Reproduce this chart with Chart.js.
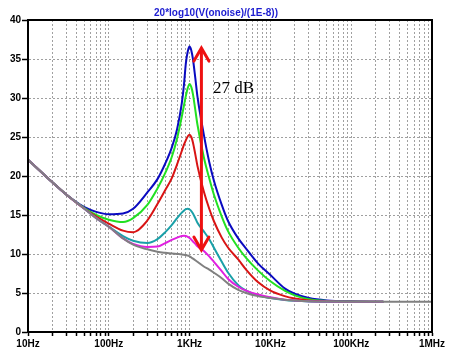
<!DOCTYPE html>
<html>
<head>
<meta charset="utf-8">
<script src="https://cdn.jsdelivr.net/npm/chart.js@4.4.1/dist/chart.umd.min.js"></script>
<style>
  html, body { margin: 0; padding: 0; background: #fff; }
  canvas { display: block; }
</style>
</head>
<body>
<canvas id="myChart" width="450" height="352"></canvas>
<script>
// frequencies (Hz) the curves were read at
const FREQ = [10, 20, 30, 50, 70, 100, 150, 200, 300, 400, 500, 600, 700, 800, 850,
  900, 950, 1000, 1050, 1100, 1175, 1250, 1500, 1750, 2000, 2500, 3000, 4000, 5000, 7000,
  10000, 15000, 20000, 30000, 50000, 100000, 250000, 1000000];

// noise in dB (20*log10(V/1E-8)), one list per step
const blue = [22.1, 19.2, 17.6, 16.0, 15.4, 15.1, 15.2, 15.8, 17.9, 19.6, 21.6, 23.6, 26.0, 29.3, 31.6,
  34.5, 36.0, 36.6, 36.1, 35.0, 32.6, 30.2, 25.3, 21.8, 19.4, 16.3, 14.2, 12.0, 10.7, 8.8,
  7.3, 5.6, 4.9, 4.35, 4.05, 3.93, 3.88, null];
const green = [22.1, 19.2, 17.6, 15.9, 15.0, 14.4, 14.1, 14.6, 16.3, 18.4, 20.4, 22.4, 24.8, 27.6, 29.0,
  30.3, 31.3, 31.8, 31.4, 30.5, 28.5, 26.6, 22.4, 19.7, 17.6, 14.8, 12.9, 10.8, 9.5, 7.9,
  6.5, 5.3, 4.7, 4.2, 3.98, 3.9, 3.88, null];
const red = [22.1, 19.2, 17.6, 15.8, 14.8, 13.9, 13.0, 12.8, 14.3, 16.4, 18.2, 19.7, 21.5, 23.2, 24.0,
  24.6, 25.1, 25.3, 25.0, 24.3, 22.8, 21.3, 18.0, 15.8, 14.2, 12.1, 10.8, 9.3, 8.0, 6.4,
  5.3, 4.6, 4.3, 4.05, 3.92, 3.88, 3.87, null];
const cyan = [22.1, 19.2, 17.6, 15.8, 14.6, 13.5, 12.3, 11.7, 11.4, 11.9, 12.8, 13.7, 14.6, 15.3, 15.55,
  15.75, 15.8, 15.7, 15.5, 15.2, 14.6, 14.0, 12.9, 11.9, 10.8, 9.0, 7.6, 6.0, 5.3, 4.7,
  4.35, 4.1, 4.0, 3.92, 3.88, 3.87, 3.87, null];
const magenta = [22.1, 19.2, 17.6, 15.8, 14.6, 13.5, 12.0, 11.3, 10.9, 10.95, 11.4, 11.8, 12.1, 12.3, 12.35,
  12.3, 12.2, 12.05, 11.85, 11.6, 11.3, 11.0, 10.4, 9.7, 9.0, 7.8, 6.8, 5.8, 5.3, 4.8,
  4.45, 4.15, 4.05, 3.95, 3.9, 3.87, 3.87, null];
const gray = [22.1, 19.2, 17.6, 15.8, 14.6, 13.5, 12.0, 11.2, 10.6, 10.3, 10.15, 10.05, 10.0, 9.95, 9.9,
  9.85, 9.8, 9.7, 9.55, 9.4, 9.2, 9.0, 8.4, 8.0, 7.6, 6.9, 6.2, 5.4, 5.0, 4.6,
  4.35, 4.15, 4.05, 3.95, 3.9, 3.88, 3.87, 3.87];

// x axis decades and their labels
const DECADES = [10, 100, 1000, 10000, 100000, 1000000];
const DECADE_LABELS = ['10Hz', '100Hz', '1KHz', '10KHz', '100KHz', '1MHz'];

// the 27 dB marker (in data units)
const ARROW_FREQ = 1400;
const ARROW_TOP = 36.4;
const ARROW_BOTTOM = 10.5;
const ARROW_TEXT = '27 dB';
const TEXT_FREQ = 1950;
const TEXT_VALUE = 31.2;

function pts(vals) {
  const out = [];
  FREQ.forEach(function (f, i) {
    if (vals[i] !== null) out.push({ x: f, y: vals[i] });
  });
  return out;
}

function series(vals, color) {
  return {
    data: pts(vals),
    borderColor: color,
    borderWidth: 2,
    pointRadius: 0,
    fill: false,
    cubicInterpolationMode: 'monotone'
  };
}

const xTicks = [];
for (let i = 0; i < DECADES.length - 1; i++) {
  for (let m = 1; m <= 9; m++) xTicks.push({ value: DECADES[i] * m });
}
xTicks.push({ value: DECADES[DECADES.length - 1] });

const annotate = {
  id: 'annotate',
  afterDraw: function (chart) {
    const ctx = chart.ctx;
    const a = chart.chartArea;
    const x = chart.scales.x, y = chart.scales.y;
    ctx.save();
    ctx.strokeStyle = '#000';
    ctx.lineWidth = 2;
    ctx.strokeRect(a.left, a.top, a.right - a.left, a.bottom - a.top);

    const ax = x.getPixelForValue(ARROW_FREQ);
    const yt = y.getPixelForValue(ARROW_TOP);
    const yb = y.getPixelForValue(ARROW_BOTTOM);
    ctx.strokeStyle = '#ee1111';
    ctx.lineWidth = 3;
    ctx.lineCap = 'round';
    ctx.beginPath();
    ctx.moveTo(ax, yt + 1);
    ctx.lineTo(ax, yb - 1);
    ctx.stroke();
    ctx.beginPath();
    ctx.moveTo(ax - 7.5, yt + 13);
    ctx.lineTo(ax, yt);
    ctx.lineTo(ax + 7.5, yt + 13);
    ctx.stroke();
    ctx.beginPath();
    ctx.moveTo(ax - 7.5, yb - 13);
    ctx.lineTo(ax, yb);
    ctx.lineTo(ax + 7.5, yb - 13);
    ctx.stroke();

    ctx.fillStyle = '#000';
    ctx.font = '17px "Liberation Serif", serif';
    ctx.textAlign = 'left';
    ctx.textBaseline = 'middle';
    ctx.fillText(ARROW_TEXT, x.getPixelForValue(TEXT_FREQ), y.getPixelForValue(TEXT_VALUE));
    ctx.restore();
  }
};

var ctx = document.getElementById('myChart').getContext('2d');
const myChart = new Chart(ctx, {
  type: 'line',
  data: {
    datasets: [
      series(gray, '#808080'),
      series(magenta, '#e020e0'),
      series(cyan, '#1aa0a8'),
      series(red, '#d81414'),
      series(green, '#22e022'),
      series(blue, '#0a0ac0')
    ]
  },
  options: {
    responsive: false,
    animation: false,
    devicePixelRatio: 1,
    layout: { padding: { left: 0, right: 18, top: 0, bottom: 0 } },
    plugins: {
      legend: { display: false },
      tooltip: { enabled: false },
      title: {
        display: true,
        text: '20*log10(V(onoise)/(1E-8))',
        color: '#1c1cd0',
        font: { family: '"Liberation Sans", Arial, sans-serif', size: 10, weight: 'bold' },
        padding: { top: 7, bottom: 1 }
      }
    },
    scales: {
      x: {
        type: 'logarithmic',
        min: 10,
        max: 1000000,
        afterBuildTicks: function (scale) { scale.ticks = xTicks.map(function (t) { return { value: t.value }; }); },
        afterFit: function (scale) { scale.height = 20; },
        grid: {
          color: '#a0a0a0',
          lineWidth: 1,
          tickColor: '#000',
          tickLength: 4,
          tickWidth: 1.5
        },
        border: { display: true, color: '#000', width: 2, dash: [2, 2] },
        ticks: {
          autoSkip: false,
          maxRotation: 0,
          padding: 2,
          color: '#000',
          font: { family: '"Liberation Sans", Arial, sans-serif', size: 10, weight: 'bold' },
          callback: function (value) {
            for (let i = 0; i < DECADES.length; i++) {
              if (Math.abs(value - DECADES[i]) < DECADES[i] * 1e-6) return DECADE_LABELS[i];
            }
            return '';
          }
        }
      },
      y: {
        min: 0,
        max: 40,
        afterFit: function (scale) { scale.width = 28; },
        grid: {
          color: '#a0a0a0',
          lineWidth: 1,
          tickColor: '#000',
          tickLength: 6,
          tickWidth: 1.5
        },
        border: { display: true, color: '#000', width: 2, dash: [2, 2] },
        ticks: {
          stepSize: 5,
          padding: 1,
          color: '#000',
          font: { family: '"Liberation Sans", Arial, sans-serif', size: 10, weight: 'bold' }
        }
      }
    }
  },
  plugins: [annotate]
});
</script>
</body>
</html>
